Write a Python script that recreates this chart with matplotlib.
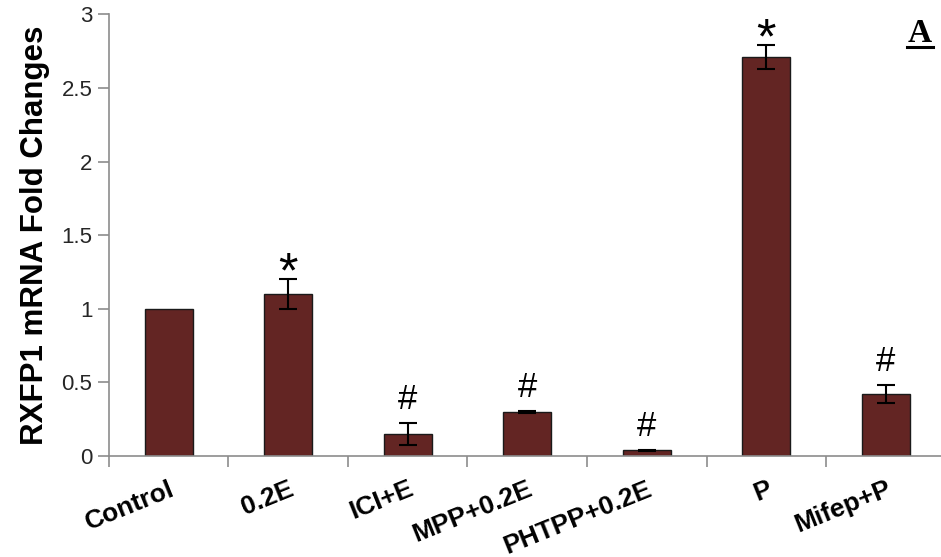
import matplotlib
matplotlib.use("Agg")
import matplotlib.pyplot as plt
import numpy as np

# Relative RXFP1 mRNA expression per treatment group
groups = ["Control", "0.2E", "ICI+E", "MPP+0.2E", "PHTPP+0.2E", "P", "Mifep+P"]
fold_change = [1.00, 1.10, 0.15, 0.30, 0.04, 2.71, 0.42]
sem = [0.0, 0.10, 0.075, 0.005, 0.004, 0.08, 0.06]
marks = ["", "*", "#", "#", "#", "*", "#"]

plt.rcParams["font.family"] = ["Liberation Sans", "DejaVu Sans"]

fig = plt.figure(figsize=(9.41, 5.57), dpi=100)
ax = fig.add_axes([0.1158, 0.1813, 0.889, 0.7927])

x = np.arange(len(groups))
ax.bar(x, fold_change, width=0.40, color="#632523", edgecolor="#1a1a1a",
       linewidth=1.0, zorder=2)

# error bars only for groups that carry a spread
has_err = [i for i, e in enumerate(sem) if e > 0]
ax.errorbar(x[has_err], [fold_change[i] for i in has_err],
            yerr=[sem[i] for i in has_err], fmt="none", ecolor="black",
            elinewidth=1.5, capsize=6.5, capthick=1.5, zorder=3)

# significance symbols above each error bar
for xi, v, e, m in zip(x, fold_change, sem, marks):
    if not m:
        continue
    if m == "*":
        ax.annotate(m, xy=(xi, v + e), xytext=(0, -6), textcoords="offset points",
                    ha="center", va="baseline", fontsize=36)
    else:
        ax.annotate(m, xy=(xi, v + e), xytext=(0, 10), textcoords="offset points",
                    ha="center", va="baseline", fontsize=25)

ax.set_xlim(-0.5, len(groups) - 0.5)
ax.set_ylim(0, 3)
ax.set_yticks([0, 0.5, 1, 1.5, 2, 2.5, 3])
ax.set_yticklabels(["0", "0.5", "1", "1.5", "2", "2.5", "3"], fontsize=16,
                   color="#262626")
ax.set_xticks(np.arange(len(groups) + 1) - 0.5)
ax.set_xticklabels([])
ax.set_xticks(x, minor=True)
ax.set_xticklabels(groups, minor=True, rotation=22, ha="right",
                   rotation_mode="anchor", fontsize=19, fontweight="bold")
ax.tick_params(axis="x", which="minor", length=0, pad=15)
ax.tick_params(axis="x", which="major", length=8, color="#8c8c8c", width=1.2)
ax.tick_params(axis="y", length=8, color="#8c8c8c", width=1.2, pad=4)

for side in ("top", "right"):
    ax.spines[side].set_visible(False)
for side in ("left", "bottom"):
    ax.spines[side].set_color("#8c8c8c")
    ax.spines[side].set_linewidth(1.2)

ax.set_ylabel("RXFP1 mRNA Fold Changes", fontsize=22.5, fontweight="bold",
              labelpad=8)

# panel letter with underline
fig.text(0.9777, 0.925, "A", fontsize=24, fontweight="bold",
         family="Liberation Serif", ha="center", va="baseline")
fig.add_artist(plt.Line2D([0.9777 - 0.0140, 0.9777 + 0.0140], [0.9155, 0.9155],
                          color="black", linewidth=2.2))

fig.savefig("out.png", dpi=100)
